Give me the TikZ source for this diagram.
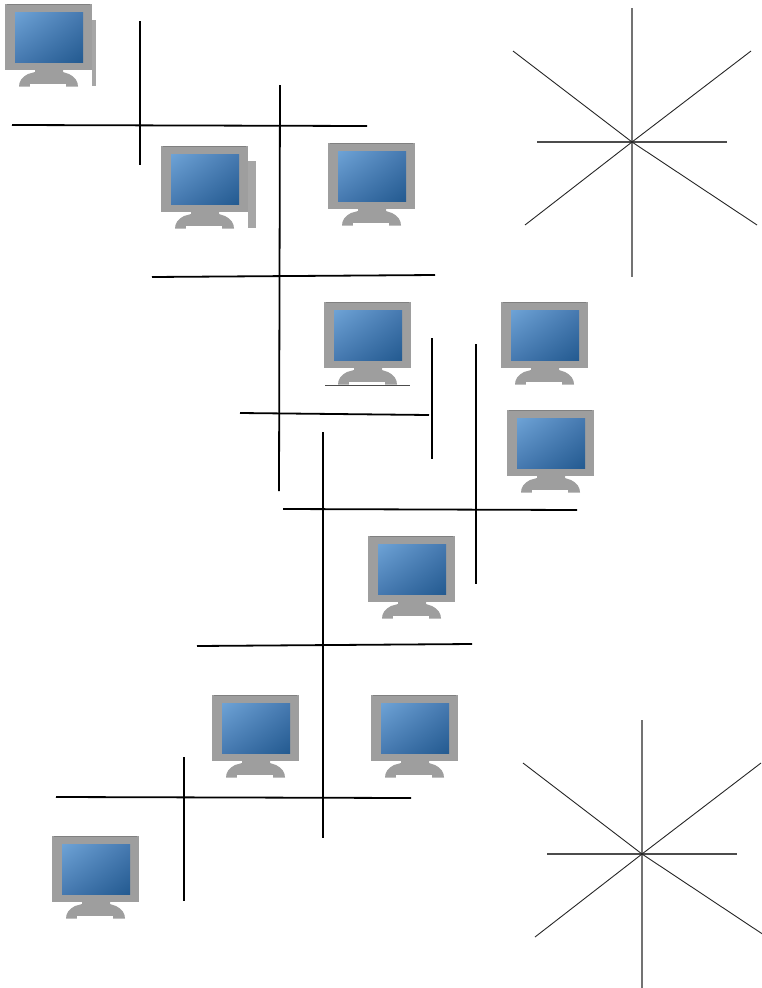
\documentclass[tikz,border=0pt]{standalone}
\usetikzlibrary{shadings}
\definecolor{bezel}{HTML}{9E9E9E}
\definecolor{bezeltop}{HTML}{808080}
\definecolor{scrA}{HTML}{6EA3D6}
\definecolor{scrB}{HTML}{4679B0}
\definecolor{scrC}{HTML}{235A90}
\definecolor{graybar}{HTML}{A6A6A6}
\tikzset{
  x=1pt,y=-1pt,
  busline/.style={black,line width=1.8},
  rayline/.style={black!85,line width=0.9},
  rayvert/.style={black!55,line width=1.4},
  rayhoriz/.style={black!70,line width=1.1},
  pics/monitor/.style={code={
    % stand
    \fill[bezel] (30,66) -- (30,68) -- (23,70) .. controls (17,73) and (14,77) .. (14,82.5)
      -- (73,82.5) .. controls (73,77) and (70,73) .. (64,70) -- (58,68) -- (58,66) -- cycle;
    \fill[white] (25,80.3) rectangle (61,82.6);
    % bezel
    \fill[bezel] (0,0) rectangle (87,66);
    \fill[bezeltop] (2,0) rectangle (85,1);
    % screen
    \shade[upper left=scrA,upper right=scrB,lower left=scrB,lower right=scrC] (10,8) rectangle (78,58.5);
  }},
}
\begin{document}
\begin{tikzpicture}
\useasboundingbox (0,0) rectangle (762,988);
% fragments beside monitors
\fill[graybar] (92,20) rectangle (96,86);
\fill[graybar] (248,161) rectangle (255.5,227.5);
% monitors
\pic at (5,4) {monitor};
\pic at (161,146) {monitor};
\pic at (328,143) {monitor};
\pic at (324,302) {monitor};
\pic at (501,302) {monitor};
\pic at (507,410) {monitor};
\pic at (368,536) {monitor};
\pic at (212,695) {monitor};
\pic at (371,695) {monitor};
\pic at (52,836) {monitor};
\draw[black!70,line width=1] (325,385.5) -- (410,385.5);
% bus lines
\draw[busline] (12,125) -- (367,126);
\draw[busline] (140,21) -- (140,165);
\draw[busline] (280,85) -- (279,491);
\draw[busline] (152,277) -- (435,275);
\draw[busline] (240,413) -- (429,415);
\draw[busline] (432,338) -- (432,459);
\draw[busline] (476,344) -- (476,584);
\draw[busline] (323,432) -- (323,838);
\draw[busline] (283,509) -- (577,510);
\draw[busline] (197,646) -- (472,644);
\draw[busline] (56,797) -- (411,798);
\draw[busline] (184,757) -- (184,901);
% stars
\foreach \dx/\dy in {0/0,10/712}{
  \begin{scope}[shift={(\dx,\dy)}]
    \coordinate (hub) at (632,142);
    \draw[rayvert] (632,8) -- (632,277);
    \draw[rayhoriz] (537,142) -- (727,142);
    \draw[rayline] (513,51) -- (hub);
    \draw[rayline] (751,51) -- (hub);
    \draw[rayline] (525,225) -- (hub);
    \draw[rayline] (757,225) -- (hub);
  \end{scope}
}
\end{tikzpicture}
\end{document}
